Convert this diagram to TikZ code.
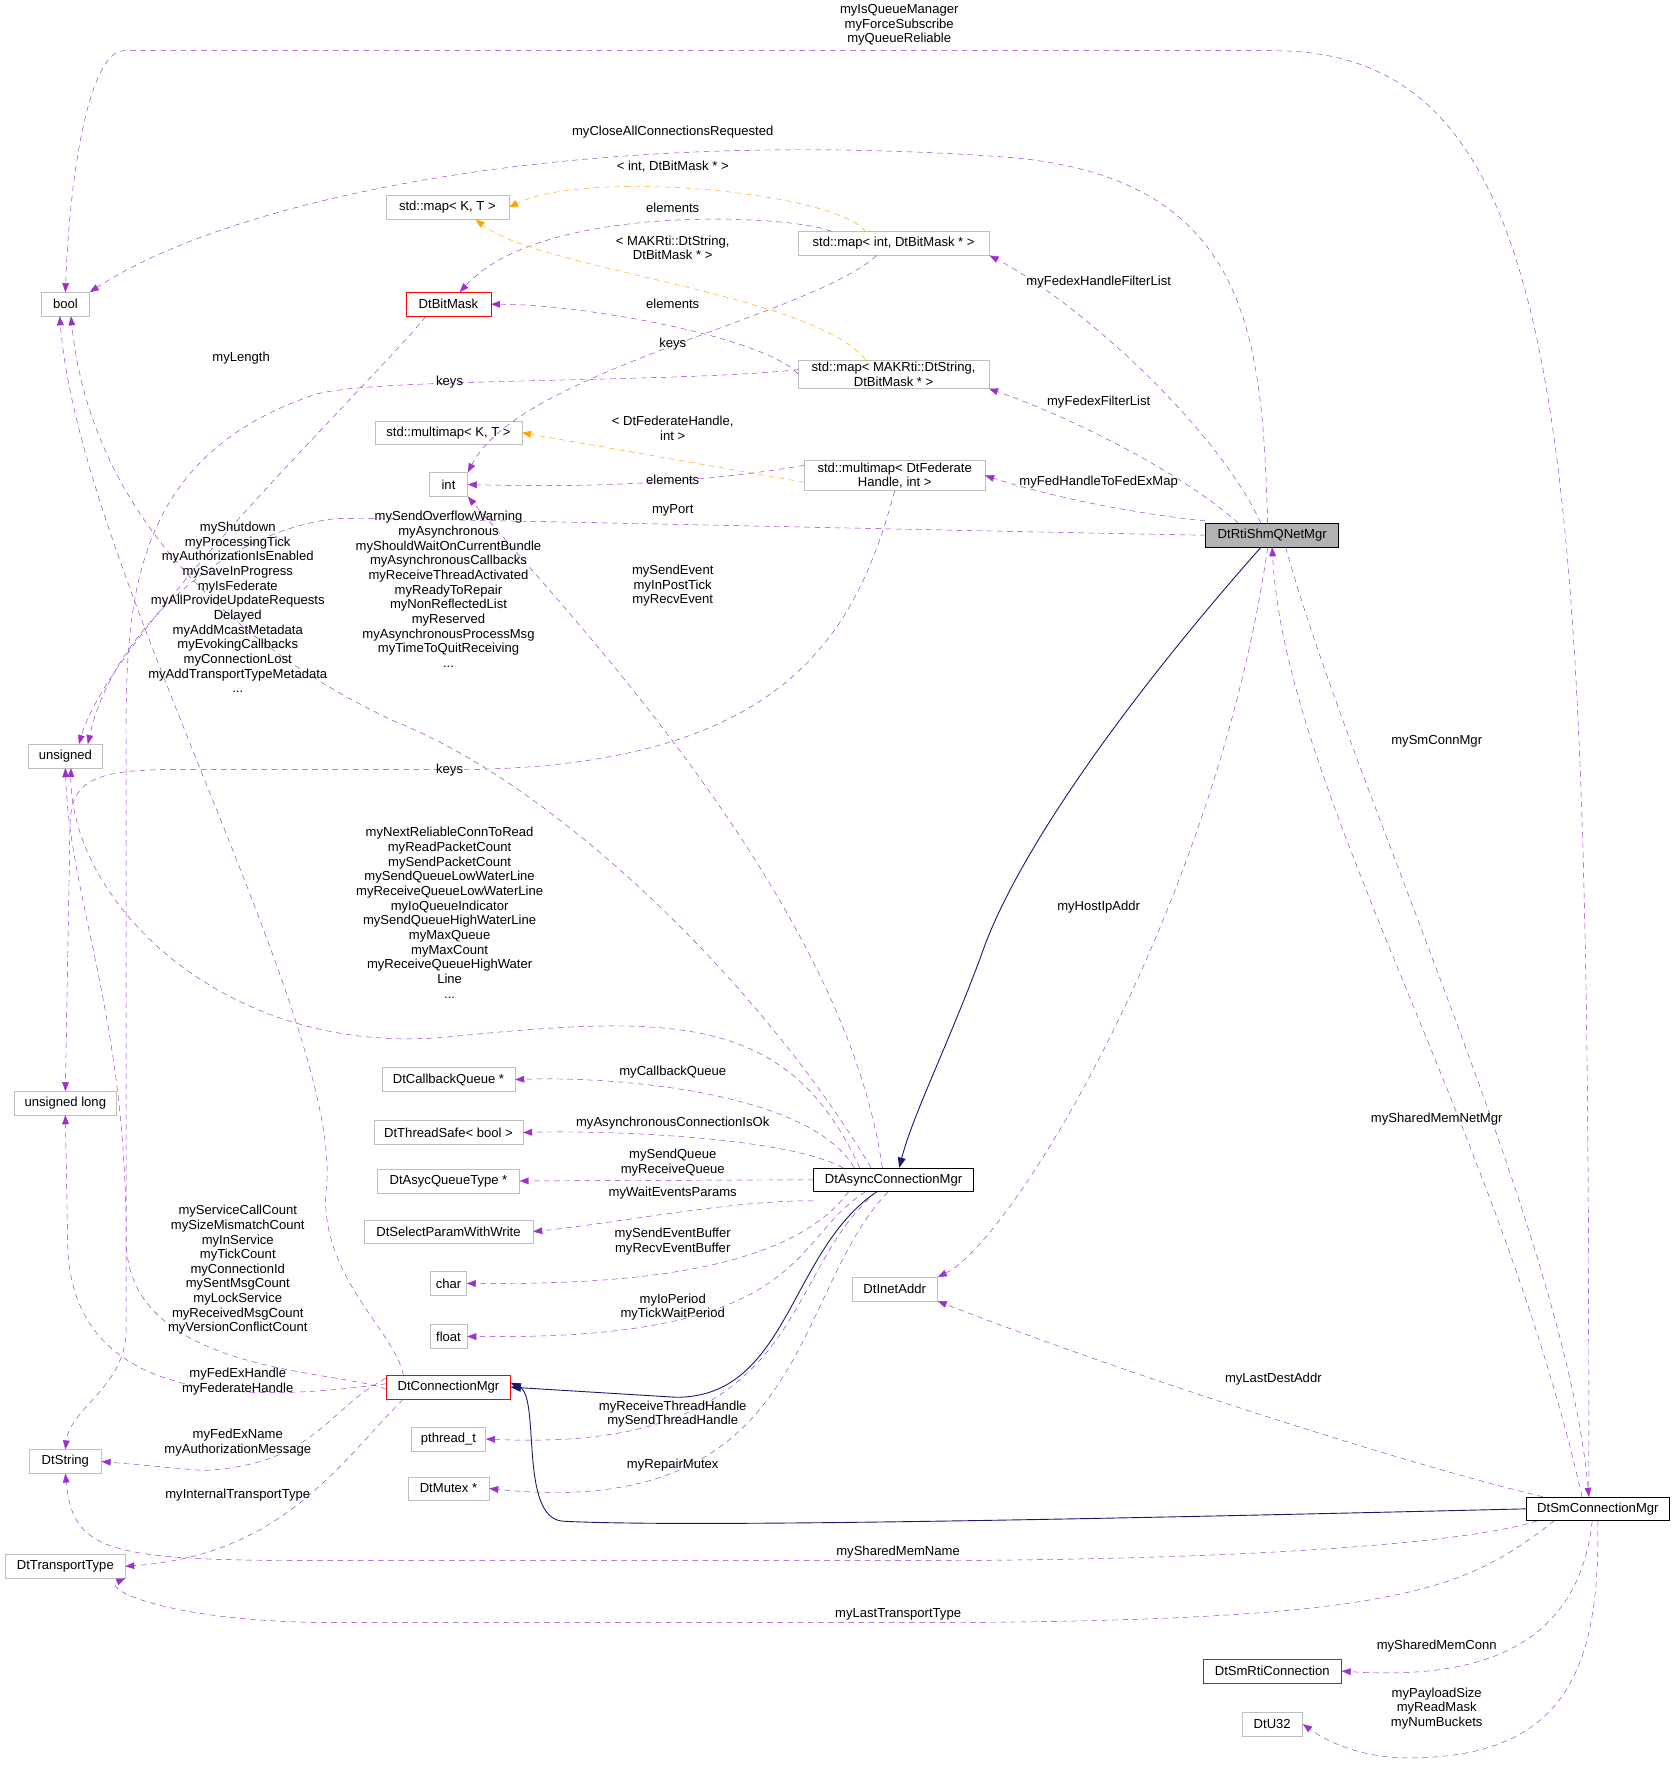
\documentclass[tikz,border=0pt]{standalone}
\usepackage{fontspec}
\setmainfont{Liberation Sans}
\usetikzlibrary{arrows.meta}
\definecolor{pur}{HTML}{9A32CD}
\definecolor{nav}{HTML}{191970}
\definecolor{org}{HTML}{FFA500}
\definecolor{gb}{HTML}{BFBFBF}
\begin{document}
\begin{tikzpicture}[x=1pt,y=-1pt,
 font=\fontsize{11.6}{13}\selectfont,
 box/.style={draw=gb,rectangle,minimum height=21pt,inner sep=2pt,align=center,fill=white},
 rbox/.style={box,draw=red},
 kbox/.style={box,draw=black},
 mem/.style={draw=pur,dashed,dash pattern=on 5pt off 4pt,-{Triangle[length=8pt,width=6pt]}},
 tmpl/.style={draw=org,dashed,dash pattern=on 5pt off 4pt,-{Triangle[length=8pt,width=6pt]}},
 inh/.style={draw=nav,thick,-{Triangle[length=9pt,width=7pt]}},
 lab/.style={align=center,inner sep=0pt}]
\useasboundingbox (0,0) rectangle (1488,1569);
% nodes
\node[box,minimum width=43pt] (bool) at (58,270) {bool};
\node[box,minimum width=109pt] (mapKT) at (397,184) {std::map< K, T >};
\node[box,minimum width=170pt] (mapint) at (793,216) {std::map< int, DtBitMask * >};
\node[rbox,minimum width=75pt] (bitmask) at (398,270) {DtBitMask};
\node[box,minimum width=169pt] (mapstr) at (793,332) {std::map< MAKRti::DtString,\\DtBitMask * >};
\node[box,minimum width=130pt] (mmKT) at (398,384) {std::multimap< K, T >};
\node[box,minimum width=34pt] (int) at (398,430) {int};
\node[box,minimum width=160pt] (mmfed) at (794,422) {std::multimap< DtFederate\\Handle, int >};
\node[kbox,fill=gray!60,minimum width=118pt] (rti) at (1129,475) {DtRtiShmQNetMgr};
\node[box,minimum width=66pt] (unsigned) at (58,671) {unsigned};
\node[box,minimum width=91pt] (ulong) at (58,979) {unsigned long};
\node[box,minimum width=118pt] (cbq) at (398,958) {DtCallbackQueue *};
\node[box,minimum width=132pt] (tsafe) at (398,1005) {DtThreadSafe< bool >};
\node[box,minimum width=126pt] (aqt) at (398,1048) {DtAsycQueueType *};
\node[box,minimum width=150pt] (sel) at (398,1093) {DtSelectParamWithWrite};
\node[box,minimum width=32pt] (char) at (398,1139) {char};
\node[box,minimum width=33pt] (float) at (398,1186) {float};
\node[kbox,minimum width=142pt] (async) at (793,1047) {DtAsyncConnectionMgr};
\node[box,minimum width=76pt] (inet) at (794,1144) {DtInetAddr};
\node[rbox,minimum width=110pt] (cmgr) at (398,1231) {DtConnectionMgr};
\node[box,minimum width=66pt] (pth) at (398,1277) {pthread\_t};
\node[box,minimum width=72pt] (mutex) at (398,1321) {DtMutex *};
\node[box,minimum width=64pt] (dtstr) at (58,1297) {DtString};
\node[box,minimum width=106pt] (ttype) at (58,1390) {DtTransportType};
\node[kbox,minimum width=127pt] (sm) at (1418,1339) {DtSmConnectionMgr};
\node[rbox,minimum width=123pt] (smrti) at (1129,1483) {DtSmRtiConnection};
\node[box,minimum width=54pt] (u32) at (1129,1530) {DtU32};
% edges
\draw[mem] ([xshift=-8pt]sm.north) .. controls (1410,400) and (1400,45) .. (1130,45) -- (110,45) .. controls (80,45) and (62,150) .. (bool.north);
\draw[mem] ([xshift=-4pt]rti.north) .. controls (1120,300) and (1110,160) .. (900,140) .. controls (500,110) and (200,180) .. (bool.north east);
\draw[tmpl] ([xshift=-25pt]mapint.north) .. controls (740,170) and (520,150) .. (mapKT.east);
\draw[mem] ([xshift=-55pt]mapint.north) .. controls (700,190) and (480,180) .. ([xshift=10pt]bitmask.north);
\draw[tmpl] ([xshift=-25pt]mapstr.north) .. controls (720,260) and (480,240) .. ([xshift=25pt]mapKT.south);
\draw[mem] (mapstr.west) .. controls (680,300) and (520,270) .. (bitmask.east);
\draw[mem] ([xshift=-15pt]mapint.south) .. controls (720,280) and (460,330) .. (int.north east);
\draw[mem] ([yshift=4pt]mapstr.west) .. controls (600,340) and (330,335) .. (280,350) .. controls (100,410) and (112,560) .. (112,700) -- (112,1180) .. controls (112,1230) and (62,1250) .. (dtstr.north);
\draw[mem] ([xshift=-20pt]bitmask.south) .. controls (330,340) and (100,560) .. ([xshift=12pt]unsigned.north);
\draw[tmpl] ([yshift=-6pt]mmfed.west) -- (mmKT.east);
\draw[mem] ([yshift=9pt]mmfed.west) .. controls (600,432) and (500,432) .. (int.east);
\draw[mem] (mmfed.south) .. controls (760,560) and (700,683) .. (400,683) -- (150,683) .. controls (70,683) and (62,700) .. (62,740) -- (ulong.north);
\draw[mem] ([xshift=-10pt]rti.north) .. controls (1080,380) and (960,270) .. (mapint.south east);
\draw[mem] ([xshift=-30pt]rti.north) .. controls (1050,420) and (950,370) .. (mapstr.south east);
\draw[mem] ([yshift=2pt]rti.north west) .. controls (1000,455) and (930,440) .. (mmfed.east);
\draw[mem] (rti.west) .. controls (800,470) and (380,460) .. (300,460) .. controls (200,470) and (100,560) .. ([xshift=20pt]unsigned.north);
\draw[inh] ([xshift=-10pt]rti.south) .. controls (1000,620) and (900,760) .. (870,850) .. controls (840,930) and (810,990) .. ([xshift=5pt]async.north);
\draw[mem] ([xshift=-4pt]rti.south) .. controls (1080,800) and (900,1100) .. (inet.north east);
\draw[mem] ([xshift=12pt]rti.south) .. controls (1200,700) and (1390,1100) .. ([xshift=-8pt]sm.north);
\draw[mem] ([xshift=-14pt]sm.north) .. controls (1330,1000) and (1140,700) .. (rti.south);
\draw[mem] ([xshift=-10pt]async.north) .. controls (750,800) and (500,540) .. (int.south east);
\draw[mem] ([xshift=-20pt]async.north) .. controls (680,880) and (500,700) .. (350,640) .. controls (200,570) and (80,450) .. ([xshift=5pt]bool.south);
\draw[mem] ([xshift=-30pt]async.north) .. controls (700,900) and (600,900) .. (400,920) .. controls (200,940) and (62,800) .. ([xshift=5pt]unsigned.south);
\draw[mem] ([xshift=-35pt]async.north) .. controls (720,970) and (550,955) .. (cbq.east);
\draw[mem] ([xshift=-45pt]async.north) .. controls (700,1010) and (550,1003) .. (tsafe.east);
\draw[mem] (async.west) -- (aqt.east);
\draw[mem] ([yshift=-8pt]async.south west) .. controls (650,1065) and (550,1085) .. (sel.east);
\draw[mem] ([xshift=-40pt]async.south) .. controls (700,1130) and (550,1140) .. (char.east);
\draw[mem] ([xshift=-25pt]async.south) .. controls (700,1100) and (720,1190) .. (float.east);
\draw[inh] ([xshift=-15pt]async.south) .. controls (700,1110) and (700,1240) .. (600,1240) -- (cmgr.east);
\draw[mem] ([xshift=-15pt]async.south) .. controls (690,1130) and (720,1290) .. (pth.east);
\draw[mem] ([xshift=-5pt]async.south) .. controls (700,1150) and (720,1350) .. (mutex.east);
\draw[mem] ([xshift=-40pt]cmgr.north) .. controls (350,1180) and (280,1130) .. (290,1050) .. controls (300,900) and (70,500) .. ([xshift=-5pt]bool.south);
\draw[mem] ([yshift=-2pt]cmgr.west) .. controls (300,1215) and (112,1220) .. (112,1100) .. controls (112,900) and (62,800) .. (unsigned.south);
\draw[mem] ([yshift=3pt]cmgr.west) .. controls (250,1240) and (60,1260) .. (60,1100) -- (ulong.south);
\draw[mem] ([yshift=8pt]cmgr.west) .. controls (290,1250) and (280,1300) .. (180,1305) -- (dtstr.east);
\draw[mem] ([xshift=15pt]cmgr.south west) .. controls (300,1300) and (250,1380) .. (ttype.east);
\draw[inh] (sm.west) .. controls (900,1350) and (600,1355) .. (500,1350) .. controls (460,1348) and (480,1240) .. ([yshift=4pt]cmgr.east);
\draw[mem] ([xshift=10pt]sm.south west) .. controls (1300,1370) and (1100,1385) .. (800,1385) -- (300,1385) .. controls (100,1385) and (65,1380) .. (dtstr.south);
\draw[mem] ([xshift=25pt]sm.south west) .. controls (1300,1410) and (1250,1440) .. (800,1440) -- (300,1440) .. controls (150,1440) and (90,1410) .. (ttype.south east);
\draw[mem] ([xshift=15pt]sm.north west) .. controls (1250,1300) and (1000,1220) .. (inet.south east);
\draw[mem] ([xshift=-5pt]sm.south) .. controls (1400,1470) and (1300,1490) .. (smrti.east);
\draw[mem] (sm.south) .. controls (1420,1480) and (1390,1560) .. (1250,1560) .. controls (1200,1560) and (1170,1540) .. (u32.east);
% labels
\node[lab] at (798,22) {myIsQueueManager\\myForceSubscribe\\myQueueReliable};
\node[lab] at (597,117) {myCloseAllConnectionsRequested};
\node[lab] at (597,148) {< int, DtBitMask * >};
\node[lab] at (597,184) {elements};
\node[lab] at (597,220) {< MAKRti::DtString,\\DtBitMask * >};
\node[lab] at (597,270) {elements};
\node[lab] at (597,305) {keys};
\node[lab] at (399,339) {keys};
\node[lab] at (214,318) {myLength};
\node[lab] at (597,380) {< DtFederateHandle,\\int >};
\node[lab] at (597,426) {elements};
\node[lab] at (399,683) {keys};
\node[lab] at (975,250) {myFedexHandleFilterList};
\node[lab] at (975,357) {myFedexFilterList};
\node[lab] at (975,428) {myFedHandleToFedExMap};
\node[lab] at (597,453) {myPort};
\node[lab] at (975,805) {myHostIpAddr};
\node[lab] at (1275,658) {mySmConnMgr};
\node[lab] at (1275,993) {mySharedMemNetMgr};
\node[lab] at (597,520) {mySendEvent\\myInPostTick\\myRecvEvent};
\node[lab] at (211,539) {myShutdown\\myProcessingTick\\myAuthorizationIsEnabled\\mySaveInProgress\\myIsFederate\\myAllProvideUpdateRequests\\Delayed\\myAddMcastMetadata\\myEvokingCallbacks\\myConnectionLost\\myAddTransportTypeMetadata\\...};
\node[lab] at (398,523) {mySendOverflowWarning\\myAsynchronous\\myShouldWaitOnCurrentBundle\\myAsynchronousCallbacks\\myReceiveThreadActivated\\myReadyToRepair\\myNonReflectedList\\myReserved\\myAsynchronousProcessMsg\\myTimeToQuitReceiving\\...};
\node[lab] at (399,810) {myNextReliableConnToRead\\myReadPacketCount\\mySendPacketCount\\mySendQueueLowWaterLine\\myReceiveQueueLowWaterLine\\myIoQueueIndicator\\mySendQueueHighWaterLine\\myMaxQueue\\myMaxCount\\myReceiveQueueHighWater\\Line\\...};
\node[lab] at (597,951) {myCallbackQueue};
\node[lab] at (597,997) {myAsynchronousConnectionIsOk};
\node[lab] at (597,1032) {mySendQueue\\myReceiveQueue};
\node[lab] at (597,1059) {myWaitEventsParams};
\node[lab] at (597,1102) {mySendEventBuffer\\myRecvEventBuffer};
\node[lab] at (597,1160) {myIoPeriod\\myTickWaitPeriod};
\node[lab] at (597,1255) {myReceiveThreadHandle\\mySendThreadHandle};
\node[lab] at (597,1300) {myRepairMutex};
\node[lab] at (211,1127) {myServiceCallCount\\mySizeMismatchCount\\myInService\\myTickCount\\myConnectionId\\mySentMsgCount\\myLockService\\myReceivedMsgCount\\myVersionConflictCount};
\node[lab] at (211,1226) {myFedExHandle\\myFederateHandle};
\node[lab] at (211,1280) {myFedExName\\myAuthorizationMessage};
\node[lab] at (211,1327) {myInternalTransportType};
\node[lab] at (797,1377) {mySharedMemName};
\node[lab] at (797,1433) {myLastTransportType};
\node[lab] at (1130,1224) {myLastDestAddr};
\node[lab] at (1275,1461) {mySharedMemConn};
\node[lab] at (1275,1516) {myPayloadSize\\myReadMask\\myNumBuckets};
\end{tikzpicture}
\end{document}
